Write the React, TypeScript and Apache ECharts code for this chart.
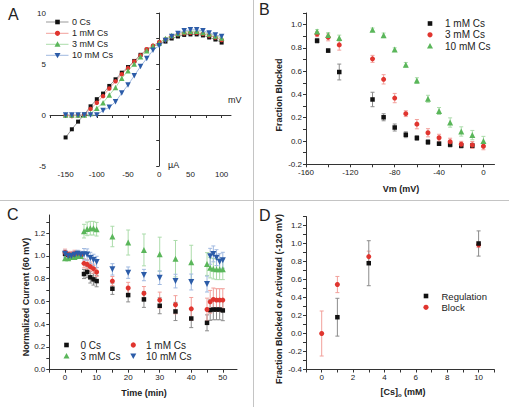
import React, { useEffect, useRef } from 'react';
import * as echarts from 'echarts';

const FONT = '"Liberation Sans", Arial, Helvetica, sans-serif';

// ---------- Panel A: I-V curves ----------
const ivVoltages = [-150, -140, -130, -120, -110, -100, -90, -80, -70, -60, -50, -40, -30, -20, -10, 0, 10, 20, 30, 40, 50, 60, 70, 80, 90, 100];
const iv0Cs = [-2.2, -1.4, -0.65, 0.05, 0.85, 1.55, 2.1, 2.85, 3.5, 4.15, 4.7, 5.3, 5.9, 6.4, 6.7, 7.0, 7.2, 7.5, 7.7, 7.85, 7.9, 7.9, 7.8, 7.6, 7.4, 7.1];
const iv1mM = [-0.05, -0.1, -0.05, 0, 0.6, 1.2, 1.85, 2.6, 3.3, 4.0, 4.6, 5.25, 5.85, 6.45, 6.8, 7.15, 7.4, 7.7, 7.9, 8.0, 8.05, 8.05, 7.95, 7.8, 7.6, 7.35];
const iv3mM = [0, 0, 0, 0, 0.15, 0.65, 1.2, 1.95, 2.7, 3.6, 4.35, 5.0, 5.7, 6.3, 6.75, 7.05, 7.5, 7.8, 8.0, 8.15, 8.2, 8.2, 8.1, 7.95, 7.75, 7.55];
const iv10mM = [0, 0, 0, 0, 0, 0, 0.45, 0.75, 1.3, 2.15, 2.95, 3.85, 4.75, 5.55, 6.35, 6.8, 7.3, 7.7, 8.0, 8.25, 8.35, 8.35, 8.25, 8.05, 7.85, 7.7];
const aXLabels = [-150, -100, -50, 0, 50, 100];
const aXTicks = [-175, -150, -125, -100, -75, -50, -25, 0, 25, 50, 75, 100];
const aYLabels = [-5, 0, 5, 10];
const aYTicks = [-5, -2.5, 0, 2.5, 5, 7.5, 10];

// ---------- Panel B: fraction blocked ----------
const bVoltages = [-150, -140, -130, -100, -90, -80, -70, -60, -50, -40, -30, -20, -10, 0];
const b1mM = [0.862, 0.777, 0.593, 0.357, 0.204, 0.116, 0.054, 0.026, -0.009, -0.023, -0.031, -0.04, -0.04];
const b1mMErr = [0.02, 0.015, 0.068, 0.062, 0.03, 0.03, 0.025, 0.02, 0.02, 0.015, 0.02, 0.02, 0.02];
const b3mM = [0.919, 0.891, 0.826, 0.706, 0.53, 0.369, 0.235, 0.145, 0.071, 0.028, -0.006, -0.028, -0.034, -0.045];
const b3mMErr = [0.02, 0.03, 0.045, 0.03, 0.04, 0.04, 0.025, 0.04, 0.035, 0.03, 0.03, 0.025, 0.03, 0.03];
const b10mM = [0.942, 0.911, 0.885, 0.956, 0.908, 0.786, 0.655, 0.519, 0.363, 0.258, 0.159, 0.082, 0.051, 0.0];
const b10mMErr = [0.015, 0.02, 0.025, 0.015, 0.02, 0.015, 0.02, 0.025, 0.03, 0.03, 0.04, 0.04, 0.04, 0.04];
const bXLabels = [-160, -120, -80, -40, 0];
const bXTicks = [-160, -140, -120, -100, -80, -60, -40, -20, 0];
const bYLabels = [-0.2, 0, 0.2, 0.4, 0.6, 0.8, 1.0];
const bYTicks = [-0.2, -0.1, 0, 0.1, 0.2, 0.3, 0.4, 0.5, 0.6, 0.7, 0.8, 0.9, 1.0, 1.1];

// ---------- Panel C: normalized current vs time ----------
const cTimes = [0, 1, 2, 3, 4, 5, 6, 7, 8, 9, 10, 15, 20, 25, 30, 35, 40, 45, 46, 47, 48, 49, 50];
const c0Cs = [1.02, 1.01, 1.0, 1.01, 1.02, 1.01, 0.841, 0.859, 0.812, 0.794, 0.779, 0.712, 0.656, 0.618, 0.562, 0.512, 0.45, 0.412, 0.524, 0.529, 0.529, 0.529, 0.521];
const c0CsErr = [0.02, 0.02, 0.02, 0.02, 0.02, 0.02, 0.04, 0.05, 0.05, 0.05, 0.05, 0.05, 0.06, 0.07, 0.07, 0.08, 0.08, 0.07, 0.09, 0.09, 0.09, 0.09, 0.09];
const c1mM = [1.03, 1.01, 1.01, 1.02, 1.01, 1.01, 0.935, 0.926, 0.906, 0.888, 0.859, 0.779, 0.718, 0.671, 0.612, 0.571, 0.535, 0.529, 0.597, 0.618, 0.612, 0.612, 0.612];
const c1mMErr = [0.03, 0.03, 0.03, 0.03, 0.03, 0.03, 0.04, 0.04, 0.04, 0.04, 0.04, 0.04, 0.05, 0.06, 0.07, 0.08, 0.1, 0.1, 0.1, 0.1, 0.1, 0.1, 0.1];
const c3mM = [0.98, 0.98, 0.99, 0.99, 1.0, 1.0, 1.218, 1.238, 1.244, 1.244, 1.235, 1.171, 1.118, 1.053, 1.015, 0.976, 0.944, 0.929, 0.897, 0.888, 0.882, 0.882, 0.882];
const c3mMErr = [0.02, 0.02, 0.02, 0.02, 0.02, 0.02, 0.06, 0.06, 0.06, 0.06, 0.06, 0.09, 0.11, 0.14, 0.15, 0.16, 0.15, 0.1, 0.09, 0.09, 0.09, 0.09, 0.09];
const c10mM = [1.02, 1.0, 1.0, 1.01, 1.02, 1.01, 1.015, 1.012, 0.982, 0.965, 0.947, 0.882, 0.853, 0.832, 0.809, 0.779, 0.771, 0.753, 0.997, 1.018, 0.985, 0.95, 0.962];
const c10mMErr = [0.03, 0.03, 0.03, 0.03, 0.03, 0.03, 0.05, 0.05, 0.05, 0.05, 0.05, 0.05, 0.05, 0.05, 0.06, 0.06, 0.07, 0.07, 0.07, 0.07, 0.07, 0.07, 0.07];
const cXLabels = [0, 10, 20, 30, 40, 50];
const cXTicks = [-5, 0, 5, 10, 15, 20, 25, 30, 35, 40, 45, 50];
const cYLabels = [0, 0.2, 0.4, 0.6, 0.8, 1.0, 1.2];
const cYTicks = [0, 0.1, 0.2, 0.3, 0.4, 0.5, 0.6, 0.7, 0.8, 0.9, 1.0, 1.1, 1.2, 1.3];

// ---------- Panel D: dose response ----------
const dRegConc = [1, 3, 10];
const dReg = [0.181, 0.781, 1.0];
const dRegErr = [0.21, 0.25, 0.14];
const dBlockConc = [0, 1, 3, 10];
const dBlock = [0.0, 0.544, 0.855, 0.985];
const dBlockErr = [0.25, 0.09, 0.06, 0.03];
const dXLabels = [0, 2, 4, 6, 8, 10];
const dXTicks = [-1, 0, 1, 2, 3, 4, 5, 6, 7, 8, 9, 10, 11];
const dYLabels = [-0.4, -0.2, 0, 0.2, 0.4, 0.6, 0.8, 1.0, 1.2];
const dYTicks = [-0.4, -0.3, -0.2, -0.1, 0, 0.1, 0.2, 0.3, 0.4, 0.5, 0.6, 0.7, 0.8, 0.9, 1.0, 1.1, 1.2, 1.3];

// ---------- styles ----------
const BLACK = '#111111';
const RED = '#e0352f';
const GREEN = '#5ab65a';
const BLUE = '#2c5ca8';
const BLACK_BAR = '#8c8c8c';
const RED_BAR = '#f2a09b';
const GREEN_BAR = '#acdcab';
const BLUE_BAR = '#a0b9e0';
const DOWN_TRI = 'path://M0,0L10,0L5,9Z';
const AXIS = '#333333';
const TXT = '#222222';

type Sym = 'sq' | 'ci' | 'up' | 'dn';
const SYM: Record<Sym, string> = { sq: 'rect', ci: 'circle', up: 'triangle', dn: DOWN_TRI };
const SIZE: Record<Sym, number> = { sq: 4.5, ci: 5, up: 6, dn: 6 };

function makeAxis(gi: number, min: number, max: number, labels: number[], ticks: number[], fmt: (v: number) => string, onZero: boolean) {
  return {
    type: 'value',
    gridIndex: gi,
    min,
    max,
    splitLine: { show: false },
    axisLine: { onZero, lineStyle: { color: AXIS, width: 1 } },
    axisTick: { customValues: ticks, length: 3, lineStyle: { color: AXIS, width: 1 } },
    axisLabel: { customValues: labels, formatter: fmt, fontSize: 8, color: TXT, margin: 4, fontFamily: FONT },
  };
}

function errSeries(gi: number, xs: number[], ys: number[], es: number[], color: string) {
  return {
    type: 'custom',
    xAxisIndex: gi,
    yAxisIndex: gi,
    z: 1,
    silent: true,
    data: ys.map((y, i) => [xs[i], y, es[i]]),
    encode: { x: 0, y: 1 },
    renderItem: (_p: any, api: any) => {
      const x = api.value(0);
      const y = api.value(1);
      const e = api.value(2);
      const p1 = api.coord([x, y + e]);
      const p2 = api.coord([x, y - e]);
      const w = 2;
      const style = { stroke: color, lineWidth: 1 };
      return {
        type: 'group',
        children: [
          { type: 'line', shape: { x1: p1[0], y1: p1[1], x2: p2[0], y2: p2[1] }, style },
          { type: 'line', shape: { x1: p1[0] - w, y1: p1[1], x2: p1[0] + w, y2: p1[1] }, style },
          { type: 'line', shape: { x1: p2[0] - w, y1: p2[1], x2: p2[0] + w, y2: p2[1] }, style },
        ],
      };
    },
  };
}

function scatterSeries(gi: number, name: string, xs: number[], ys: number[], sym: Sym, color: string) {
  return {
    type: 'scatter',
    name,
    xAxisIndex: gi,
    yAxisIndex: gi,
    z: 3,
    silent: true,
    symbol: SYM[sym],
    symbolSize: SIZE[sym],
    itemStyle: { color, opacity: 1 },
    data: ys.map((y, i) => [xs[i], y]),
  };
}

function lineSeries(name: string, ys: number[], sym: Sym, color: string, lineColor: string) {
  return {
    type: 'line',
    name,
    xAxisIndex: 0,
    yAxisIndex: 0,
    z: 3,
    silent: true,
    symbol: SYM[sym],
    symbolSize: sym === 'sq' ? 4 : sym === 'ci' ? 4.5 : 5.5,
    showSymbol: true,
    showAllSymbol: true,
    itemStyle: { color },
    lineStyle: { color: lineColor, width: 1 },
    data: ys.map((y, i) => [ivVoltages[i], y]),
  };
}

function marker(sym: Sym, cx: number, cy: number, color: string): any {
  if (sym === 'sq') return { type: 'rect', shape: { x: cx - 2.3, y: cy - 2.3, width: 4.6, height: 4.6 }, style: { fill: color } };
  if (sym === 'ci') return { type: 'circle', shape: { cx, cy, r: 2.6 }, style: { fill: color } };
  if (sym === 'up') return { type: 'polygon', shape: { points: [[cx, cy - 3], [cx + 3, cy + 2.4], [cx - 3, cy + 2.4]] }, style: { fill: color } };
  return { type: 'polygon', shape: { points: [[cx - 3, cy - 2.4], [cx + 3, cy - 2.4], [cx, cy + 3]] }, style: { fill: color } };
}

function label(text: string, x: number, y: number, size: number, extra: any = {}): any {
  return {
    type: 'text',
    x,
    y,
    style: { text, fontSize: size, fontFamily: FONT, fill: TXT, align: 'left', verticalAlign: 'middle', ...extra },
  };
}

function legendEntry(sym: Sym, color: string, text: string, mx: number, tx: number, y: number, size: number, lineColor?: string): any[] {
  const els: any[] = [];
  if (lineColor) els.push({ type: 'line', shape: { x1: mx - 11.5, y1: y, x2: mx + 11, y2: y }, style: { stroke: lineColor, lineWidth: 1 } });
  els.push(marker(sym, mx, y, color));
  els.push(label(text, tx, y, size));
  return els;
}

const fmtInt = (v: number) => String(v);
const fmt1 = (v: number) => (Math.abs(v) < 1e-9 ? '0.0' : v.toFixed(1));

export default function App() {
  const ref = useRef<HTMLDivElement>(null);

  useEffect(() => {
    if (!ref.current) return;
    const chart = echarts.init(ref.current, undefined, { renderer: 'svg' });

    const graphic: any[] = [
      { type: 'line', shape: { x1: 253.5, y1: 0, x2: 253.5, y2: 407 }, style: { stroke: '#c4c4c4', lineWidth: 1 } },
      { type: 'line', shape: { x1: 0, y1: 200.5, x2: 509, y2: 200.5 }, style: { stroke: '#c4c4c4', lineWidth: 1 } },
      label('A', 8, 14.5, 16),
      label('B', 259, 9.5, 16),
      label('C', 7, 214.5, 16),
      label('D', 259, 215, 16),
      label('mV', 228, 100, 9),
      label('µA', 168, 164.5, 9),
      label('Vm (mV)', 401, 189, 9, { align: 'center', fontWeight: 'bold' }),
      label('Time (min)', 144, 392.5, 9, { align: 'center', fontWeight: 'bold' }),
      {
        type: 'text',
        x: 403,
        y: 392,
        style: {
          text: '[Cs]{s|o} (mM)',
          fontSize: 9,
          fontWeight: 'bold',
          fontFamily: FONT,
          fill: TXT,
          align: 'center',
          verticalAlign: 'middle',
          rich: { s: { fontSize: 6, fontWeight: 'bold', fontFamily: FONT, fill: TXT, padding: [6, 0, 0, 0] } },
        },
      },
      { ...label('Fraction Blocked', 279, 95, 9, { align: 'center', fontWeight: 'bold' }), rotation: Math.PI / 2 },
      { ...label('Normalized Current (60 mV)', 25.5, 297, 9, { align: 'center', fontWeight: 'bold' }), rotation: Math.PI / 2 },
      { ...label('Fraction Blocked or Activated (-120 mV)', 279, 299, 9, { align: 'center', fontWeight: 'bold' }), rotation: Math.PI / 2 },
      // legend A
      ...legendEntry('sq', BLACK, '0 Cs', 57.5, 72, 22, 9, '#999999'),
      ...legendEntry('ci', RED, '1 mM Cs', 57.5, 72, 33.3, 9, RED_BAR),
      ...legendEntry('up', GREEN, '3 mM Cs', 57.5, 72, 44.3, 9, GREEN_BAR),
      ...legendEntry('dn', BLUE, '10 mM Cs', 57.5, 72, 55.3, 9, BLUE_BAR),
      // legend B
      ...legendEntry('sq', BLACK, '1 mM Cs', 430, 445, 23.5, 10),
      ...legendEntry('ci', RED, '3 mM Cs', 430, 445, 34.8, 10),
      ...legendEntry('up', GREEN, '10 mM Cs', 430, 445, 46, 10),
      // legend C
      ...legendEntry('sq', BLACK, '0 Cs', 66.5, 80.5, 345, 10),
      ...legendEntry('ci', RED, '1 mM Cs', 133.3, 146, 345, 10),
      ...legendEntry('up', GREEN, '3 mM Cs', 66.5, 80.5, 356, 10),
      ...legendEntry('dn', BLUE, '10 mM Cs', 133.3, 146, 356, 10),
      // legend D
      ...legendEntry('sq', BLACK, 'Regulation', 426, 441.5, 296, 9.5),
      ...legendEntry('ci', RED, 'Block', 426, 441.5, 307.3, 9.5),
    ];

    const option: any = {
      animation: false,
      backgroundColor: '#ffffff',
      textStyle: { fontFamily: FONT },
      grid: [
        { left: 50, top: 13, width: 181, height: 153 },
        { left: 306, top: 13, width: 188.5, height: 151.3 },
        { left: 49.3, top: 215, width: 187.7, height: 154.7 },
        { left: 306, top: 216.5, width: 188.3, height: 153 },
      ],
      xAxis: [
        makeAxis(0, -175, 115, aXLabels, aXTicks, fmtInt, true),
        makeAxis(1, -160, 10, bXLabels, bXTicks, fmtInt, false),
        makeAxis(2, -5, 54.5, cXLabels, cXTicks, fmtInt, false),
        makeAxis(3, -1, 11, dXLabels, dXTicks, fmtInt, false),
      ],
      yAxis: [
        makeAxis(0, -5, 10, aYLabels, aYTicks, fmtInt, true),
        makeAxis(1, -0.2, 1.1, bYLabels, bYTicks, fmt1, false),
        makeAxis(2, 0, 1.36, cYLabels, cYTicks, fmt1, false),
        makeAxis(3, -0.4, 1.3, dYLabels, dYTicks, fmt1, false),
      ],
      series: [
        // A
        lineSeries('0 Cs', iv0Cs, 'sq', BLACK, '#999999'),
        lineSeries('1 mM Cs', iv1mM, 'ci', RED, RED_BAR),
        lineSeries('3 mM Cs', iv3mM, 'up', GREEN, GREEN_BAR),
        lineSeries('10 mM Cs', iv10mM, 'dn', BLUE, BLUE_BAR),
        // B
        errSeries(1, bVoltages, b1mM, b1mMErr, BLACK_BAR),
        errSeries(1, bVoltages, b3mM, b3mMErr, RED_BAR),
        errSeries(1, bVoltages, b10mM, b10mMErr, GREEN_BAR),
        scatterSeries(1, 'B 1 mM Cs', bVoltages, b1mM, 'sq', BLACK),
        scatterSeries(1, 'B 3 mM Cs', bVoltages, b3mM, 'ci', RED),
        scatterSeries(1, 'B 10 mM Cs', bVoltages, b10mM, 'up', GREEN),
        // C
        errSeries(2, cTimes, c0Cs, c0CsErr, BLACK_BAR),
        errSeries(2, cTimes, c1mM, c1mMErr, RED_BAR),
        errSeries(2, cTimes, c3mM, c3mMErr, GREEN_BAR),
        errSeries(2, cTimes, c10mM, c10mMErr, BLUE_BAR),
        scatterSeries(2, 'C 0 Cs', cTimes, c0Cs, 'sq', BLACK),
        scatterSeries(2, 'C 1 mM Cs', cTimes, c1mM, 'ci', RED),
        scatterSeries(2, 'C 3 mM Cs', cTimes, c3mM, 'up', GREEN),
        scatterSeries(2, 'C 10 mM Cs', cTimes, c10mM, 'dn', BLUE),
        // D
        errSeries(3, dBlockConc, dBlock, dBlockErr, RED_BAR),
        errSeries(3, dRegConc, dReg, dRegErr, BLACK_BAR),
        scatterSeries(3, 'Block', dBlockConc, dBlock, 'ci', RED),
        scatterSeries(3, 'Regulation', dRegConc, dReg, 'sq', BLACK),
      ],
      graphic,
    };

    chart.setOption(option);
    return () => chart.dispose();
  }, []);

  return (
    <div
      ref={ref}
      style={{ position: 'absolute', left: 0, top: 0, width: 509, height: 407, background: '#ffffff' }}
    />
  );
}
